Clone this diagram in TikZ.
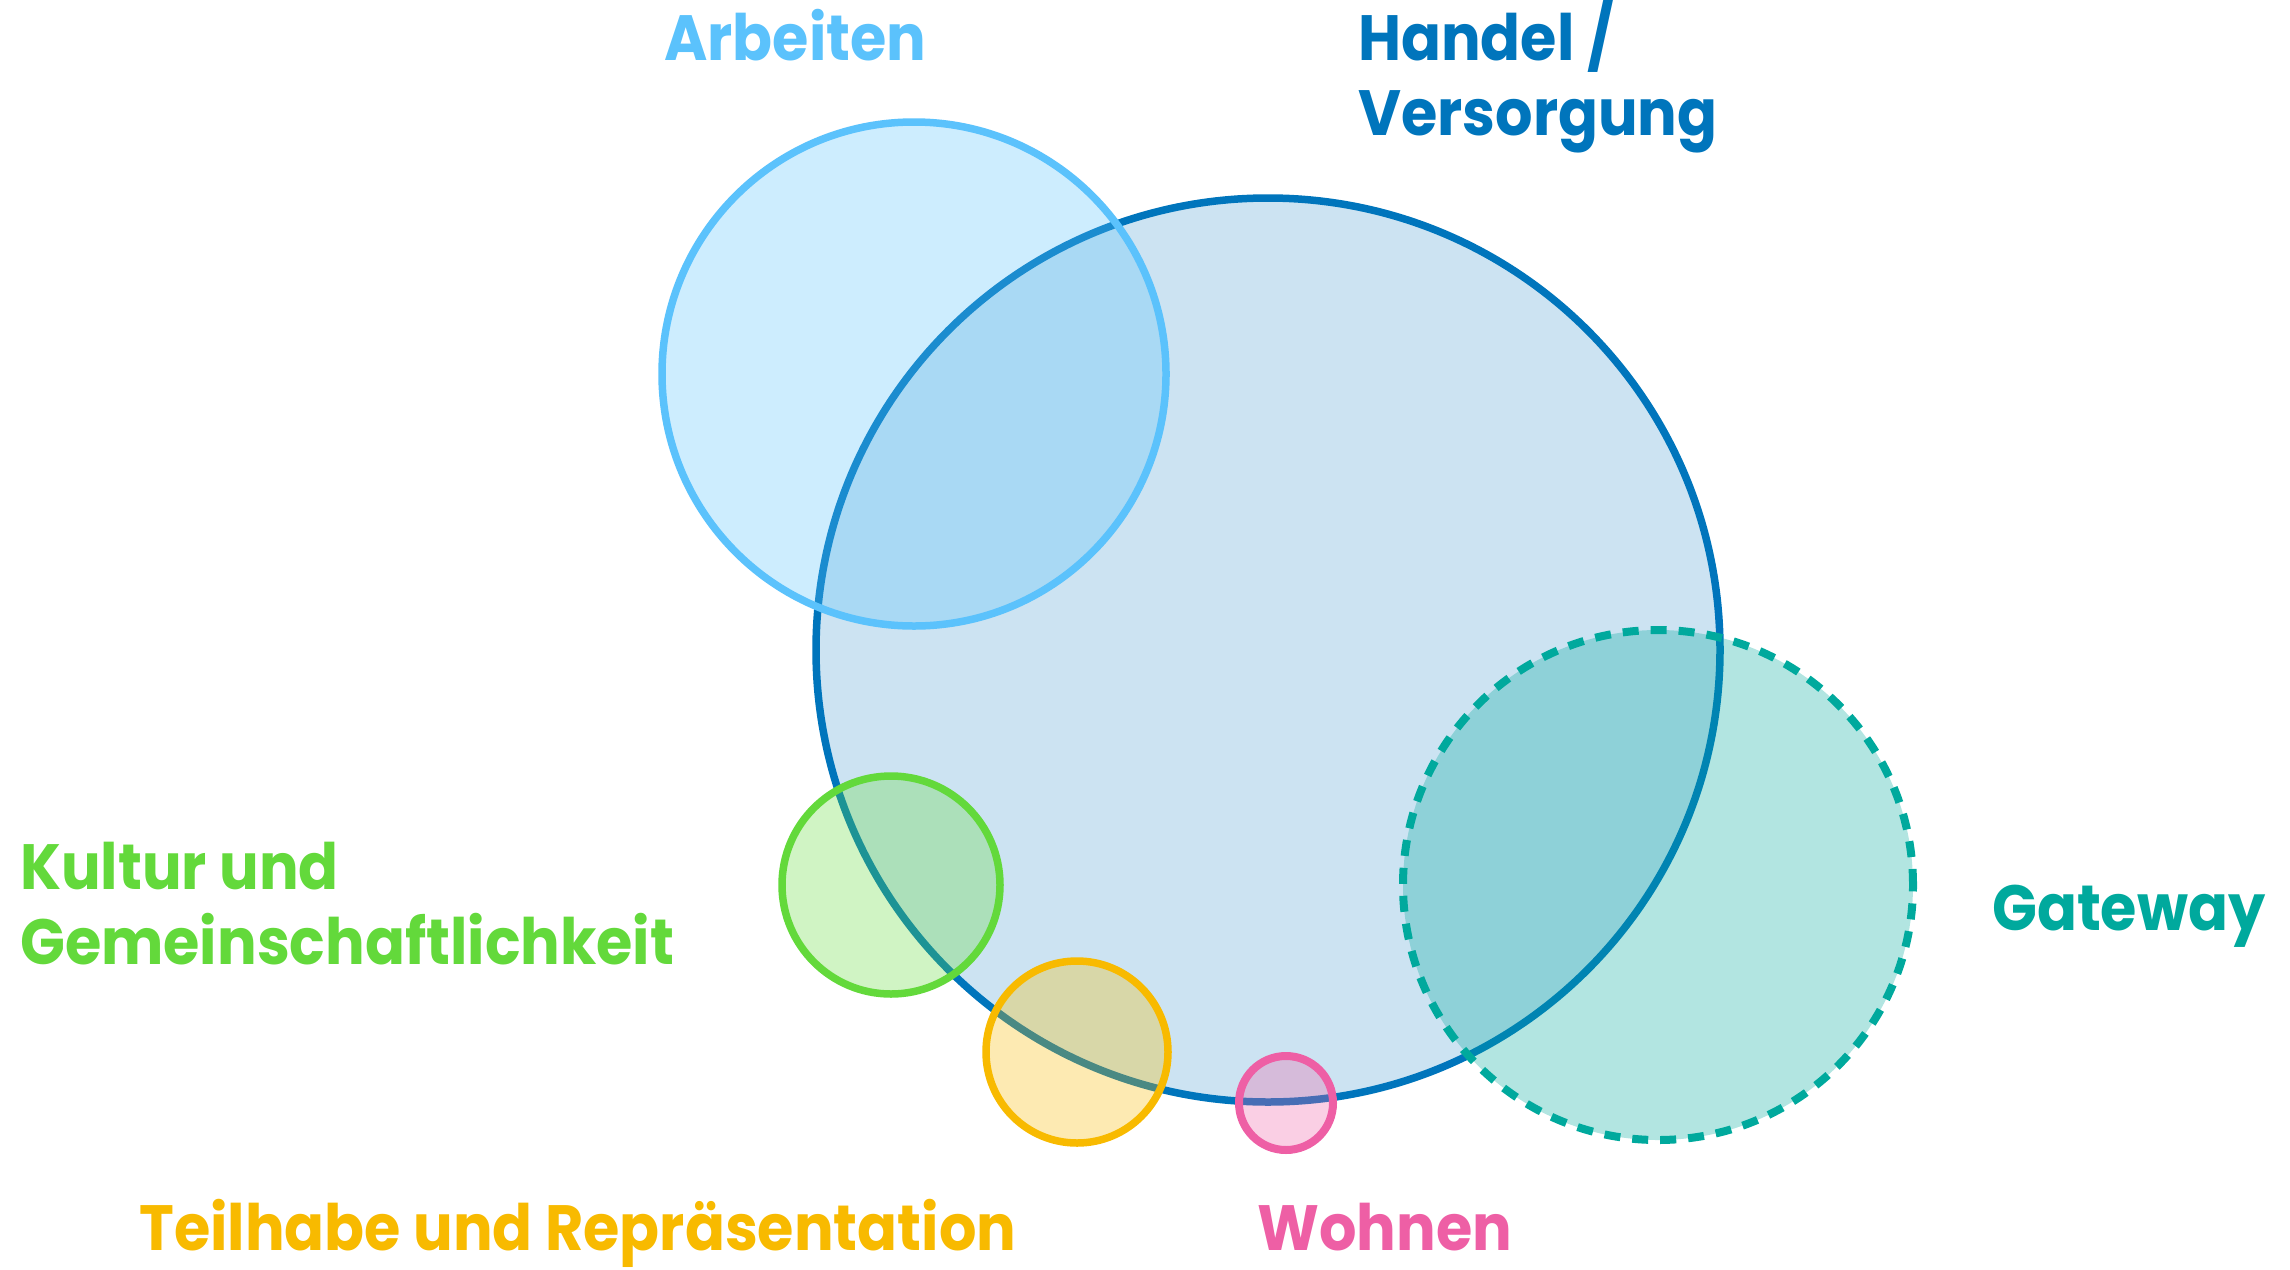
\documentclass[tikz,border=0pt]{standalone}
\usepackage{fontspec}
\setmainfont{Poppins}[FakeStretch=0.92]
\usepackage{tikz}
\usetikzlibrary{positioning}
\definecolor{arbeitenblue}{HTML}{5BC2FC}
\definecolor{handelblue}{HTML}{0075BC}
\definecolor{gatewayteal}{HTML}{00A99D}
\definecolor{kulturgreen}{HTML}{63D93B}
\definecolor{teilhabeyellow}{HTML}{F8BA00}
\definecolor{wohnenpink}{HTML}{EE5FA5}

\begin{document}
\begin{tikzpicture}[
  x=1pt,y=-1pt,
  bubble/.style={circle,draw=#1,fill=#1,fill opacity=0.3,line width=7.5pt,
    inner sep=0pt,outer sep=0pt},
  tag/.style={anchor=base west,inner sep=0pt,align=left,text=#1,
    font=\fontsize{64}{75}\selectfont\bfseries}
]
\useasboundingbox (0,0) rectangle (2290,1269);
% big circles
\node[bubble=handelblue,fill opacity=0.2,minimum size=904pt] (handel) at (1268,650) {};
\node[bubble=arbeitenblue,minimum size=504pt] (arbeiten) at (914,374) {};
\node[bubble=gatewayteal,line width=8pt,dash pattern=on 16pt off 12pt,
  minimum size=510pt] (gateway) at (1658,885) {};
% small circles
\node[bubble=kulturgreen,minimum size=218pt] (kultur) at (891,885) {};
\node[bubble=teilhabeyellow,minimum size=182pt] (teilhabe) at (1077,1052) {};
\node[bubble=wohnenpink,line width=8pt,minimum size=94pt] (wohnen) at (1286,1103) {};
% labels (base = last line)
\node[tag=arbeitenblue] (arbeitenlbl) at (664,60) {Arbeiten};
\node[tag=handelblue] (handellbl) at (1358,135) {Handel /\\Versorgung};
\node[tag=kulturgreen] (kulturlbl) at (20,964) {Kultur und\\Gemeinschaftlichkeit};
\node[tag=gatewayteal] (gatewaylbl) at (1992,930) {Gateway};
\node[tag=teilhabeyellow] (teilhabelbl) at (139,1250) {Teilhabe und Repräsentation};
\node[tag=wohnenpink] (wohnenlbl) at (1257,1250) {Wohnen};
\end{tikzpicture}
\end{document}
